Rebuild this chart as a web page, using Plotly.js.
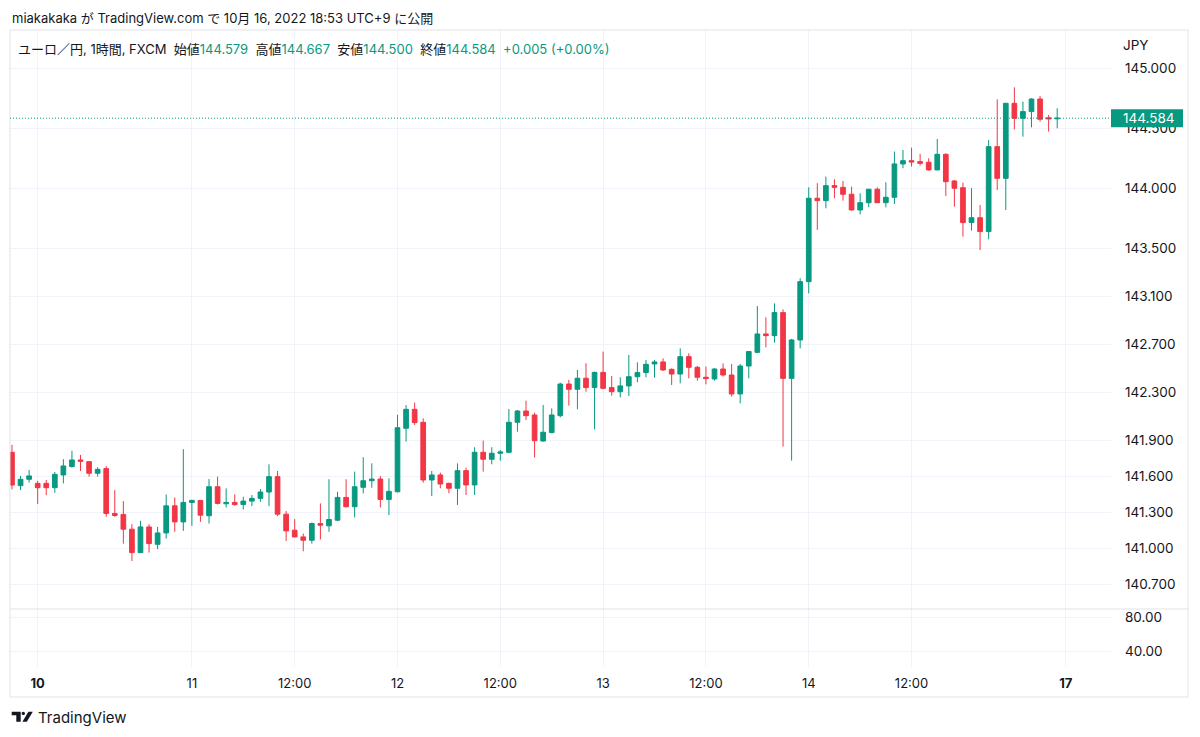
<!DOCTYPE html>
<html>
<head>
<meta charset="utf-8">
<script src="https://cdn.plot.ly/plotly-3.0.1.min.js"></script>
<style>
html,body{margin:0;padding:0;background:#ffffff;}
#chart{width:1200px;height:737px;}
</style>
</head>
<body>
<div id="chart"></div>
<script>
// Hour index (hours since Oct 10 00:00 JST; 3-5 are the previous Saturday's last bars)
const hours = [3,4,5,6,7,8,9,10,11,12,13,14,15,16,17,18,19,20,21,22,23,24,25,26,27,28,29,30,31,32,33,34,35,36,37,38,39,40,41,42,43,44,45,46,47,48,49,50,51,52,53,54,55,56,57,58,59,60,61,62,63,64,65,66,67,68,69,70,71,72,73,74,75,76,77,78,79,80,81,82,83,84,85,86,87,88,89,90,91,92,93,94,95,96,97,98,99,100,101,102,103,104,105,106,107,108,109,110,111,112,113,114,115,116,117,118,119,120,121,122,123,124,125];

const openP = [141.800,141.522,141.575,141.541,141.541,141.505,141.611,141.681,141.736,141.722,141.625,141.664,141.290,141.282,141.159,140.964,141.178,141.033,141.128,141.354,141.220,141.382,141.399,141.271,141.513,141.371,141.382,141.365,141.393,141.416,141.469,141.597,141.284,141.151,141.095,141.067,141.206,141.187,141.234,141.424,141.346,141.508,141.563,141.577,141.407,141.471,142.000,142.158,142.050,141.569,141.611,141.541,141.500,141.647,141.528,141.800,141.742,141.792,141.800,142.050,142.144,142.111,141.894,141.964,142.105,142.369,142.325,142.417,142.339,142.466,142.339,142.305,142.353,142.430,142.464,142.536,142.553,142.491,142.452,142.597,142.508,142.425,142.411,142.494,142.444,142.286,142.519,142.633,142.786,142.772,142.964,142.416,142.736,143.222,143.917,143.897,144.022,144.008,143.950,143.819,143.880,143.992,143.880,143.925,144.203,144.230,144.222,144.217,144.153,144.283,144.061,144.005,143.714,143.755,143.639,144.347,144.083,144.708,144.583,144.639,144.744,144.588,144.579];

const highP = [141.862,141.603,141.653,141.563,141.569,141.636,141.742,141.812,141.778,141.725,141.675,141.686,141.485,141.393,141.201,141.229,141.201,141.178,141.449,141.424,141.826,141.404,141.403,141.577,141.597,141.499,141.449,141.430,141.444,141.494,141.700,141.644,141.310,141.243,141.123,141.215,141.374,141.575,141.471,141.575,141.639,141.759,141.708,141.602,141.583,142.113,142.194,142.214,142.083,141.644,141.630,141.547,141.708,141.672,141.842,141.897,141.842,141.819,142.161,142.153,142.230,142.130,142.194,142.166,142.380,142.403,142.486,142.542,142.472,142.639,142.436,142.425,142.611,142.550,142.569,142.569,142.583,142.500,142.666,142.625,142.519,142.514,142.500,142.541,142.536,142.536,142.644,143.019,142.925,143.041,142.991,142.745,143.250,144.008,144.042,144.097,144.075,144.061,144.014,143.958,143.995,144.008,144.050,144.306,144.319,144.339,144.286,144.250,144.411,144.292,144.069,144.047,144.000,143.861,144.403,144.741,144.712,144.841,144.722,144.750,144.769,144.611,144.667];

const lowP = [141.491,141.485,141.547,141.368,141.443,141.463,141.541,141.672,141.644,141.597,141.597,141.262,141.262,141.039,140.894,140.960,140.964,140.992,141.081,141.137,141.145,141.187,141.220,141.206,141.365,141.340,141.354,141.324,141.351,141.388,141.351,141.268,141.061,141.089,140.975,141.039,141.073,141.137,141.226,141.340,141.257,141.457,141.505,141.340,141.276,141.465,141.889,142.028,141.547,141.436,141.500,141.458,141.361,141.444,141.444,141.639,141.700,141.730,141.792,141.972,142.069,141.756,141.889,141.958,142.091,142.189,142.158,142.305,141.992,142.325,142.272,142.258,142.269,142.383,142.425,142.422,142.478,142.361,142.375,142.416,142.397,142.366,142.397,142.430,142.264,142.208,142.416,142.625,142.675,142.714,141.847,141.730,142.666,143.125,143.653,143.833,143.917,143.897,143.815,143.783,143.842,143.878,143.842,143.869,144.167,144.181,144.189,144.147,144.150,143.936,143.847,143.597,143.647,143.486,143.575,143.986,143.819,144.491,144.430,144.508,144.555,144.472,144.500];

const closeP = [141.527,141.575,141.603,141.505,141.505,141.616,141.686,141.736,141.725,141.625,141.658,141.290,141.273,141.159,140.964,141.178,141.039,141.128,141.354,141.220,141.382,141.399,141.276,141.513,141.374,141.382,141.365,141.393,141.416,141.469,141.597,141.284,141.145,141.095,141.067,141.206,141.192,141.240,141.424,141.346,141.513,141.563,141.577,141.407,141.474,142.005,142.158,142.047,141.569,141.611,141.536,141.500,141.647,141.528,141.800,141.742,141.792,141.803,142.050,142.144,142.105,141.897,141.967,142.111,142.369,142.325,142.417,142.339,142.466,142.333,142.305,142.353,142.430,142.464,142.533,142.553,142.486,142.452,142.597,142.508,142.425,142.414,142.494,142.444,142.286,142.519,142.639,142.786,142.772,142.964,142.416,142.736,143.222,143.917,143.897,144.022,144.008,143.950,143.819,143.880,143.992,143.880,143.925,144.203,144.230,144.219,144.208,144.153,144.283,144.055,144.000,143.714,143.755,143.639,144.347,144.083,144.708,144.583,144.639,144.744,144.575,144.579,144.584];

// Axis ticks
const xTickVals = [6,24,36,48,60,72,84,96,108,126];
const xTickText = ['<b>10</b>','11','12:00','12','12:00','13','12:00','14','12:00','<b>17</b>'];
const priceTicks = [140.7,141.0,141.3,141.6,141.9,142.3,142.7,143.1,143.5,144.0,144.5,145.0];
const lowerTicks = [40,80];

const GREEN = '#089981', RED = '#f23645', TXT = '#131722', GRID = '#f0f3fa', BORDER = '#e0e3eb';
const FONT = 'Inter, "Noto Sans CJK JP", "Noto Sans", sans-serif';

// pixel -> paper helpers (plot area: x 10..1111, y 30..667)
const L = 10, W = 1101, B = 667, H = 637;
const px = v => (v - L) / W;
const py = v => (B - v) / H;

const n = closeP.length;
const lastO = openP[n-1], lastH = highP[n-1], lastL = lowP[n-1], lastC = closeP[n-1], prevC = closeP[n-2];
const chg = lastC - prevC;
const pct = chg / prevC * 100;
const g = s => '<span style="color:' + GREEN + '">' + s + '</span>';
const sp = '\u00a0\u00a0';
const legendText = 'ユーロ／円, 1時間, FXCM' + sp + '始値' + g(lastO.toFixed(3)) + sp + '高値' + g(lastH.toFixed(3)) + sp +
  '安値' + g(lastL.toFixed(3)) + sp + '終値' + g(lastC.toFixed(3)) + sp +
  g((chg >= 0 ? '+' : '') + chg.toFixed(3) + ' (' + (pct >= 0 ? '+' : '') + pct.toFixed(2) + '%)');

const traces = [
  {
    type: 'candlestick',
    x: hours, open: openP, high: highP, low: lowP, close: closeP,
    xaxis: 'x', yaxis: 'y',
    increasing: {line: {color: GREEN, width: 1}, fillcolor: GREEN},
    decreasing: {line: {color: RED, width: 1}, fillcolor: RED},
    hoverinfo: 'skip'
  },
  {type: 'scatter', mode: 'lines', x: [], y: [], xaxis: 'x', yaxis: 'y2', hoverinfo: 'skip'}
];

const sepY = py(609);
const axFont = {family: FONT, size: 13.5, color: TXT};

const layout = {
  width: 1200, height: 737,
  margin: {l: L, r: 1200 - (L + W), t: 30, b: 737 - B, pad: 0},
  paper_bgcolor: '#ffffff', plot_bgcolor: '#ffffff',
  showlegend: false,
  boxgap: 0.22,
  font: {family: FONT, size: 13, color: TXT},
  xaxis: {
    range: [2.77, 131.28], anchor: 'y2',
    tickmode: 'array', tickvals: xTickVals, ticktext: xTickText,
    showgrid: true, gridcolor: GRID, gridwidth: 1,
    zeroline: false, showline: false, ticks: '',
    ticklabelstandoff: 7,
    tickfont: {family: FONT, size: 13, color: TXT},
    rangeslider: {visible: false}, fixedrange: true
  },
  yaxis: {
    domain: [sepY, 1], range: [140.494, 145.319], anchor: 'x', side: 'right',
    tickmode: 'array', tickvals: priceTicks, tickformat: '.3f',
    showgrid: true, gridcolor: GRID, gridwidth: 1,
    zeroline: false, showline: false, ticks: '',
    ticklabelstandoff: 13,
    tickfont: axFont, fixedrange: true
  },
  yaxis2: {
    domain: [0, sepY], range: [20.8, 90.4], anchor: 'x', side: 'right',
    tickmode: 'array', tickvals: lowerTicks, tickformat: '.2f',
    showgrid: true, gridcolor: GRID, gridwidth: 1,
    zeroline: false, showline: false, ticks: '',
    ticklabelstandoff: 13,
    tickfont: axFont, fixedrange: true
  },
  shapes: [
    // outer frame
    {type: 'rect', xref: 'paper', yref: 'paper', x0: 0, x1: px(1188), y0: py(697), y1: 1,
     line: {color: BORDER, width: 1}, fillcolor: 'rgba(0,0,0,0)', layer: 'above'},
    // pane separator
    {type: 'line', xref: 'paper', yref: 'paper', x0: 0, x1: px(1188), y0: sepY, y1: sepY,
     line: {color: BORDER, width: 1}, layer: 'above'},
    // last price dotted line
    {type: 'line', xref: 'paper', yref: 'y', x0: 0, x1: 1, y0: lastC, y1: lastC,
     line: {color: GREEN, width: 1, dash: '1px,2px'}, layer: 'above'},
    // last price box
    {type: 'rect', xref: 'paper', yref: 'y', x0: 1, x1: px(1183), ysizemode: 'pixel', yanchor: lastC, y0: -9, y1: 9,
     fillcolor: GREEN, line: {width: 0}, layer: 'above'},
    // TradingView logo
    {type: 'path', xref: 'paper', yref: 'paper',
     path: 'M' + px(11.7) + ',' + py(711.7) + ' L' + px(20.7) + ',' + py(711.7) + ' L' + px(20.7) + ',' + py(721.7) +
           ' L' + px(16.3) + ',' + py(721.7) + ' L' + px(16.3) + ',' + py(715.2) + ' L' + px(11.7) + ',' + py(715.2) + ' Z',
     fillcolor: TXT, line: {width: 0}},
    {type: 'circle', xref: 'paper', yref: 'paper', x0: px(21.6), x1: px(25.0), y0: py(711.7), y1: py(715.1),
     fillcolor: TXT, line: {width: 0}},
    {type: 'path', xref: 'paper', yref: 'paper',
     path: 'M' + px(22.4) + ',' + py(721.7) + ' L' + px(26.8) + ',' + py(721.7) + ' L' + px(32.8) + ',' + py(711.7) +
           ' L' + px(28.4) + ',' + py(711.7) + ' Z',
     fillcolor: TXT, line: {width: 0}}
  ],
  annotations: [
    {xref: 'paper', yref: 'paper', x: px(10), y: py(18), xanchor: 'left', yanchor: 'middle', showarrow: false,
     text: 'miakakaka が TradingView.com で 10月 16, 2022 18:53 UTC+9 に公開',
     font: {family: FONT, size: 13, color: TXT}},
    {xref: 'paper', yref: 'paper', x: px(16), y: py(48.5), xanchor: 'left', yanchor: 'middle', showarrow: false,
     text: legendText, font: {family: FONT, size: 13, color: TXT}},
    {xref: 'paper', yref: 'paper', x: px(1121), y: py(45), xanchor: 'left', yanchor: 'middle', showarrow: false,
     text: 'JPY', font: axFont},
    {xref: 'paper', yref: 'y', x: px(1121), y: lastC, xanchor: 'left', yanchor: 'middle', showarrow: false,
     text: lastC.toFixed(3), font: {family: FONT, size: 13.5, color: '#ffffff'}},
    {xref: 'paper', yref: 'paper', x: px(36), y: py(717.5), xanchor: 'left', yanchor: 'middle', showarrow: false,
     text: 'TradingView', font: {family: FONT, size: 15, color: TXT}}
  ]
};

Plotly.newPlot('chart', traces, layout, {staticPlot: true, displayModeBar: false});
</script>
</body>
</html>
